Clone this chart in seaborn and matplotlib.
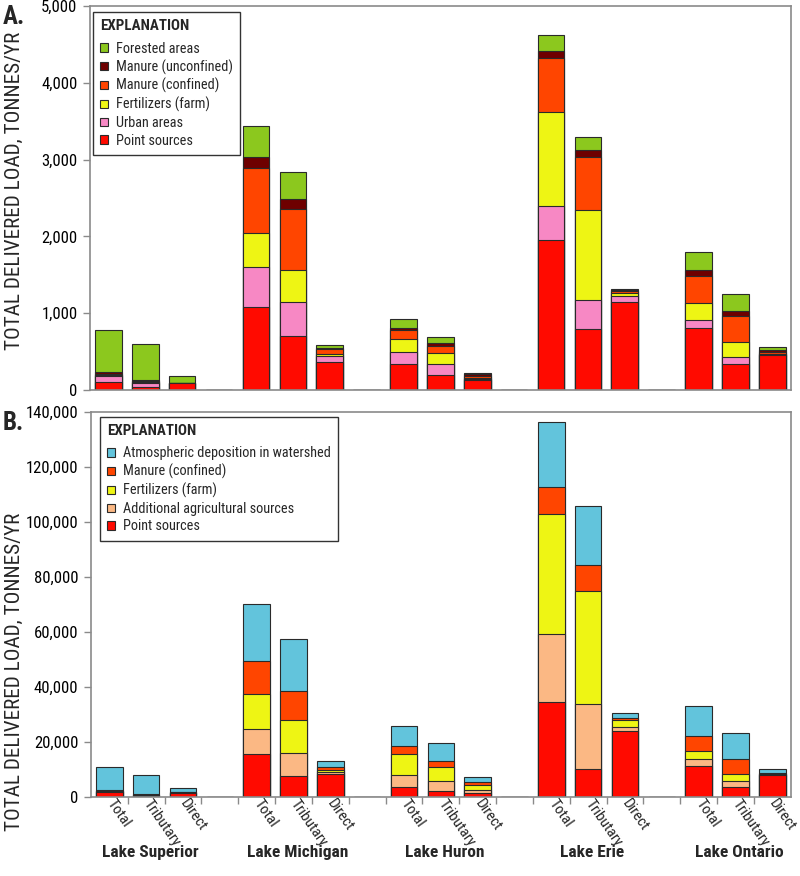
import os
import numpy as np
import pandas as pd
import matplotlib
matplotlib.use("Agg")
import matplotlib.pyplot as plt
import seaborn as sns
from matplotlib.patches import Patch
from matplotlib import font_manager as fm
from matplotlib.font_manager import FontProperties
from matplotlib.ticker import FuncFormatter
import matplotlib.transforms as mtransforms

# ---------------- data ----------------
lakes = ["Lake Superior", "Lake Michigan", "Lake Huron", "Lake Erie", "Lake Ontario"]
bar_types = ["Total", "Tributary", "Direct"]

# Panel A (bars ordered: Superior T/Tr/D, Michigan T/Tr/D, Huron ..., Erie ..., Ontario ...)
a_point = [100, 40, 85, 1085, 703, 370, 334, 195, 130, 1953, 790, 1142, 803, 334, 458]
a_urban = [82, 55, 2, 520, 447, 78, 165, 144, 15, 447, 382, 82, 108, 91, 5]
a_fert = [12, 10, 2, 435, 413, 25, 161, 138, 10, 1224, 1172, 43, 218, 204, 5]
a_manure_conf = [20, 15, 3, 855, 794, 62, 121, 100, 25, 695, 686, 20, 359, 339, 30]
a_manure_unconf = [20, 15, 5, 140, 126, 18, 22, 31, 30, 99, 95, 15, 75, 65, 25]
a_forest = [547, 465, 85, 400, 356, 28, 121, 86, 15, 200, 174, 13, 238, 217, 33]

# Panel B
b_point = [1800, 150, 1400, 15600, 7500, 8200, 3400, 2100, 1300, 34300, 10000, 24000, 11300, 3400, 7900]
b_additional = [200, 500, 100, 9200, 8500, 700, 4400, 3500, 1300, 24900, 23700, 1300, 2300, 2300, 200]
b_fert = [200, 100, 100, 12400, 11800, 800, 7900, 5300, 1800, 43800, 41000, 2600, 3200, 2400, 200]
b_manure_conf = [300, 100, 200, 12300, 10800, 1200, 2700, 2000, 900, 9800, 9700, 700, 5300, 5500, 500]
b_atmos = [8400, 7100, 1200, 20800, 18900, 2100, 7500, 6600, 1700, 23700, 21500, 1800, 10900, 9700, 1200]

# ---------------- style ----------------
sns.set_theme(style="white")
plt.rcParams["font.family"] = ["DejaVu Sans"]

font_files = {os.path.basename(f.fname).lower(): f.fname for f in fm.fontManager.ttflist}


def pick(cands):
    for c in cands:
        if c.lower() in font_files:
            return font_files[c.lower()]
    return None


REG = pick(["LiberationSansNarrow-Regular.ttf", "RobotoCondensed-Regular.ttf",
            "NotoSans-Condensed.ttf", "DejaVuSansCondensed.ttf",
            "OpenSans_Condensed-Regular.ttf"])
BOLD = pick(["LiberationSansNarrow-Bold.ttf", "RobotoCondensed-Bold.ttf",
             "NotoSans-CondensedBold.ttf", "DejaVuSansCondensed-Bold.ttf",
             "OpenSans_Condensed-Bold.ttf"])


def fp(size, bold=False):
    path = BOLD if bold else REG
    if path:
        return FontProperties(fname=path, size=size)
    return FontProperties(family="DejaVu Sans", size=size * 0.88,
                          weight="bold" if bold else "normal")


C_POINT = "#ff0a00"
C_URBAN = "#f788c4"
C_FERT = "#eef514"
C_MCONF = "#ff4500"
C_MUNCONF = "#6e0000"
C_FOREST = "#8cc81e"
C_ADD = "#fbb884"
C_ATMOS = "#62c4dc"
EDGE = "#2a2a2a"
GRAY = "#8a8a8a"

# category slots (with an empty slot between lakes)
bar_slots = [f"{l}|{t}" for l in lakes for t in bar_types]
slots = []
for i, l in enumerate(lakes):
    slots += [f"{l}|{t}" for t in bar_types]
    if i < len(lakes) - 1:
        slots.append(f"gap{i}")


def draw_stack(ax, layers):
    vals = np.array([v for _, v, _ in layers], dtype=float)
    cum = np.cumsum(vals, axis=0)
    for k in reversed(range(len(layers))):
        m = dict(zip(bar_slots, cum[k]))
        df = pd.DataFrame({"slot": slots, "load": [m.get(s, 0.0) for s in slots]})
        sns.barplot(data=df, x="slot", y="load", order=slots, color=layers[k][2],
                    saturation=1, width=0.72, edgecolor=EDGE, linewidth=0.8,
                    errorbar=None, ax=ax)


def style_axes(ax, ymax, step):
    ax.set_xlim(-0.5, len(slots) - 0.5)
    ax.set_ylim(0, ymax)
    ax.set_yticks(np.arange(0, ymax + 1, step))
    ax.yaxis.set_major_formatter(FuncFormatter(lambda v, p: f"{int(v):,}"))
    ax.set_xlabel("")
    ax.set_ylabel("")
    for sp in ax.spines.values():
        sp.set_visible(True)
        sp.set_color(GRAY)
        sp.set_linewidth(1.2)
    ax.tick_params(axis="y", left=True, direction="out", length=5, width=1,
                   color=GRAY, pad=4, labelcolor="black")
    for t in ax.get_yticklabels():
        t.set_fontproperties(fp(12))


fig = plt.figure(figsize=(8, 8.76), dpi=100)
W, H = 800, 876
ax_a = fig.add_axes([90 / W, 1 - 390 / H, 700.7 / W, 384 / H])
ax_b = fig.add_axes([91 / W, 1 - 796.7 / H, 699.7 / W, 384.7 / H])

layers_a = [
    ("Point sources", a_point, C_POINT),
    ("Urban areas", a_urban, C_URBAN),
    ("Fertilizers (farm)", a_fert, C_FERT),
    ("Manure (confined)", a_manure_conf, C_MCONF),
    ("Manure (unconfined)", a_manure_unconf, C_MUNCONF),
    ("Forested areas", a_forest, C_FOREST),
]
layers_b = [
    ("Point sources", b_point, C_POINT),
    ("Additional agricultural sources", b_additional, C_ADD),
    ("Fertilizers (farm)", b_fert, C_FERT),
    ("Manure (confined)", b_manure_conf, C_MCONF),
    ("Atmospheric deposition in watershed", b_atmos, C_ATMOS),
]

draw_stack(ax_a, layers_a)
draw_stack(ax_b, layers_b)
style_axes(ax_a, 5000, 1000)
style_axes(ax_b, 140000, 20000)

# panel A: no x ticks
ax_a.set_xticks([])

# panel B: labels under bars, small ticks between slots
centers = [slots.index(s) for s in bar_slots]
ax_b.set_xticks(centers)
ax_b.set_xticklabels([s.split("|")[1] for s in bar_slots], rotation=-55,
                     ha="left", va="center", rotation_mode="anchor")
for t in ax_b.get_xticklabels():
    t.set_fontproperties(fp(11))
ax_b.set_xticks(np.arange(0.5, len(slots) - 1, 1), minor=True)
ax_b.tick_params(axis="x", which="major", bottom=True, length=0, pad=3)
ax_b.tick_params(axis="x", which="minor", bottom=True, direction="out",
                 length=5, width=1, color=GRAY)

# lake names
trans = mtransforms.blended_transform_factory(ax_b.transData, ax_b.transAxes)
for l in lakes:
    ax_b.text(slots.index(f"{l}|Tributary") + 0.1, -0.145, l, transform=trans,
              ha="center", va="center", fontproperties=fp(12.5, bold=True))


# legends
def make_legend(ax, layers, anchor):
    handles = [Patch(facecolor=c, edgecolor=EDGE, linewidth=0.8, label=lab)
               for lab, _, c in reversed(layers)]
    leg = ax.legend(handles=handles, loc="upper left", bbox_to_anchor=anchor,
                    borderaxespad=0, frameon=True, fancybox=False, framealpha=1,
                    edgecolor="#333333", prop=fp(10.3), title="EXPLANATION",
                    title_fontproperties=fp(10.8, bold=True),
                    alignment="left", handlelength=0.55, handleheight=0.55,
                    handletextpad=0.55, labelspacing=0.25, borderpad=0.5)
    leg.get_frame().set_linewidth(1.0)
    leg._legend_box.sep = 6
    return leg


make_legend(ax_a, layers_a, (0.004, 0.984))
make_legend(ax_b, layers_b, (0.013, 0.987))

# y labels and panel letters
ylab = "TOTAL DELIVERED LOAD, TONNES/YR"
fig.text(14 / W, 1 - 32 / H, ylab, rotation=90, ha="center", va="top",
         fontproperties=fp(15.2))
fig.text(14 / W, 1 - 513 / H, ylab, rotation=90, ha="center", va="top",
         fontproperties=fp(15.2))
fig.text(3 / W, 1 - 17 / H, "A.", va="center", fontproperties=fp(18, bold=True))
fig.text(3 / W, 1 - 423 / H, "B.", va="center", fontproperties=fp(18, bold=True))

fig.savefig("out.png", dpi=100)
